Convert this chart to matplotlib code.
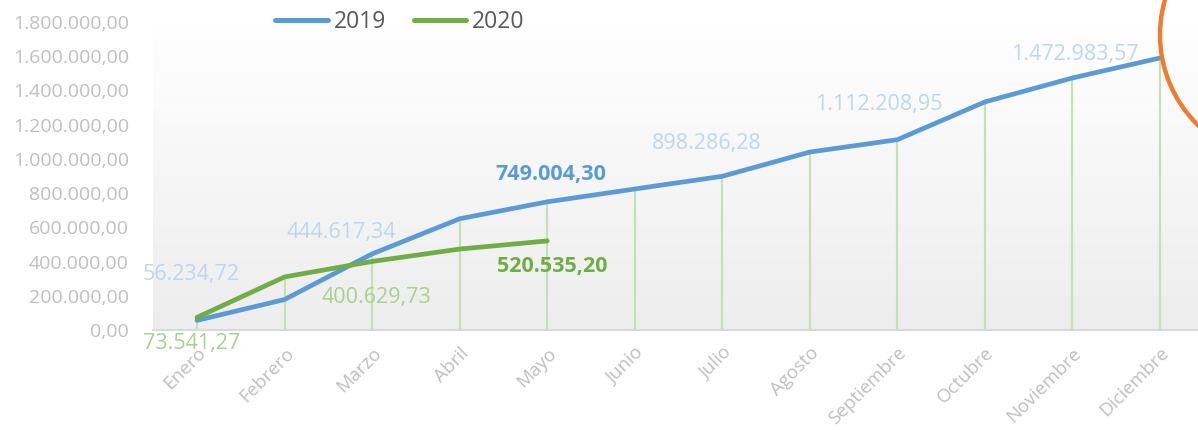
import matplotlib.pyplot as plt
import numpy as np
from matplotlib.patches import Ellipse

# Chart data
months = ["Enero", "Febrero", "Marzo", "Abril", "Mayo", "Junio", "Julio",
          "Agosto", "Septiembre", "Octubre", "Noviembre", "Diciembre"]
sales_2019 = [56234.72, 178000, 444617.34, 650000, 749004.30, 824000, 898286.28,
              1040000, 1112208.95, 1333000, 1472983.57, 1590000]
sales_2020 = [73541.27, 310000, 400629.73, 473000, 520535.20]
y_ticks = [0, 200000, 400000, 600000, 800000, 1000000, 1200000, 1400000, 1600000, 1800000]


def fmt_es(v):
    s = f"{v:,.2f}"
    return s.replace(",", "X").replace(".", ",").replace("X", ".")


plt.rcParams['font.family'] = ['Open Sans', 'DejaVu Sans']

fig = plt.figure(figsize=(11.98, 4.30), dpi=100)
ax = fig.add_axes([153.2 / 1198, 1 - 330 / 430, 1050.6 / 1198, 308 / 430])

x19 = np.arange(len(sales_2019))
x20 = np.arange(len(sales_2020))

# gradient background of the plot area
grad = np.linspace(0, 1, 256).reshape(-1, 1)
ax.imshow(grad, extent=(-0.5, 11.5, 0, 1800000), aspect='auto',
          cmap=plt.matplotlib.colors.LinearSegmentedColormap.from_list('bg', ['#ffffff', '#ededed']),
          origin='upper', zorder=0)

# drop lines from the highest point at each month
tops = [max(sales_2019[i], sales_2020[i]) if i < len(sales_2020) else sales_2019[i]
        for i in range(len(sales_2019))]
ax.vlines(x19, 0, tops, color='#c5e0b4', lw=1.6, zorder=1)

ax.plot(x19, sales_2019, color='#5b9bd5', lw=3.4, label='2019', zorder=3,
        solid_capstyle='round', solid_joinstyle='round')
ax.plot(x20, sales_2020, color='#70ad47', lw=3.4, label='2020', zorder=4,
        solid_capstyle='round', solid_joinstyle='round')

# data labels
blue_labels = {0: (-6, 46), 2: (-31, 21), 4: (4, 27), 6: (-16, 33), 8: (-19, 35), 10: (2, 23)}
for i, (dx, dy) in blue_labels.items():
    bold = i == 4
    ax.annotate(fmt_es(sales_2019[i]), (x19[i], sales_2019[i]), xytext=(dx, dy),
                textcoords='offset pixels', ha='center', va='center', fontsize=15.5,
                color='#5b9bd5' if bold else '#bdd7ee',
                fontweight='bold' if bold else 'normal', zorder=5)

green_labels = {0: (-5, -26), 2: (4, -36), 4: (5, -26)}
for i, (dx, dy) in green_labels.items():
    bold = i == 4
    ax.annotate(fmt_es(sales_2020[i]), (x20[i], sales_2020[i]), xytext=(dx, dy),
                textcoords='offset pixels', ha='center', va='center', fontsize=15.5,
                color='#70ad47' if bold else '#a9d18e',
                fontweight='bold' if bold else 'normal', zorder=5)

ax.set_xlim(-0.5, 11.5)
ax.set_ylim(0, 1800000)
ax.set_yticks(y_ticks)
ax.set_yticklabels([fmt_es(v) for v in y_ticks], color='#bfbfbf', fontsize=14)
ax.set_xticks(x19)
ax.set_xticklabels(months, rotation=45, ha='right', va='top', rotation_mode='anchor',
                   color='#bfbfbf', fontsize=13.5)
ax.tick_params(axis='both', length=0)
ax.tick_params(axis='y', pad=17.5)
ax.tick_params(axis='x', pad=10)
for side in ['top', 'right', 'left']:
    ax.spines[side].set_visible(False)
ax.spines['bottom'].set_color('#d9d9d9')
ax.spines['bottom'].set_linewidth(1.5)
ax.spines['bottom'].set_zorder(2)

leg = fig.legend(loc='center', bbox_to_anchor=(400 / 1198, 1 - 22 / 430), ncol=2,
                 frameon=False, fontsize=16.5, handlelength=2.3, columnspacing=1.2,
                 handletextpad=0.25, labelcolor='#595959')
for line in leg.get_lines():
    line.set_linewidth(3.6)
    line.set_solid_capstyle('round')

# orange highlight circle at top right (partly outside)
fig.patches.append(Ellipse((1286 / 1198, 1 - 35 / 430), 2 * 126 / 1198, 2 * 126 / 430,
                           transform=fig.transFigure, fill=False, edgecolor='#ed7d31',
                           lw=3.2, zorder=10))

fig.savefig('out.png', dpi=100)
